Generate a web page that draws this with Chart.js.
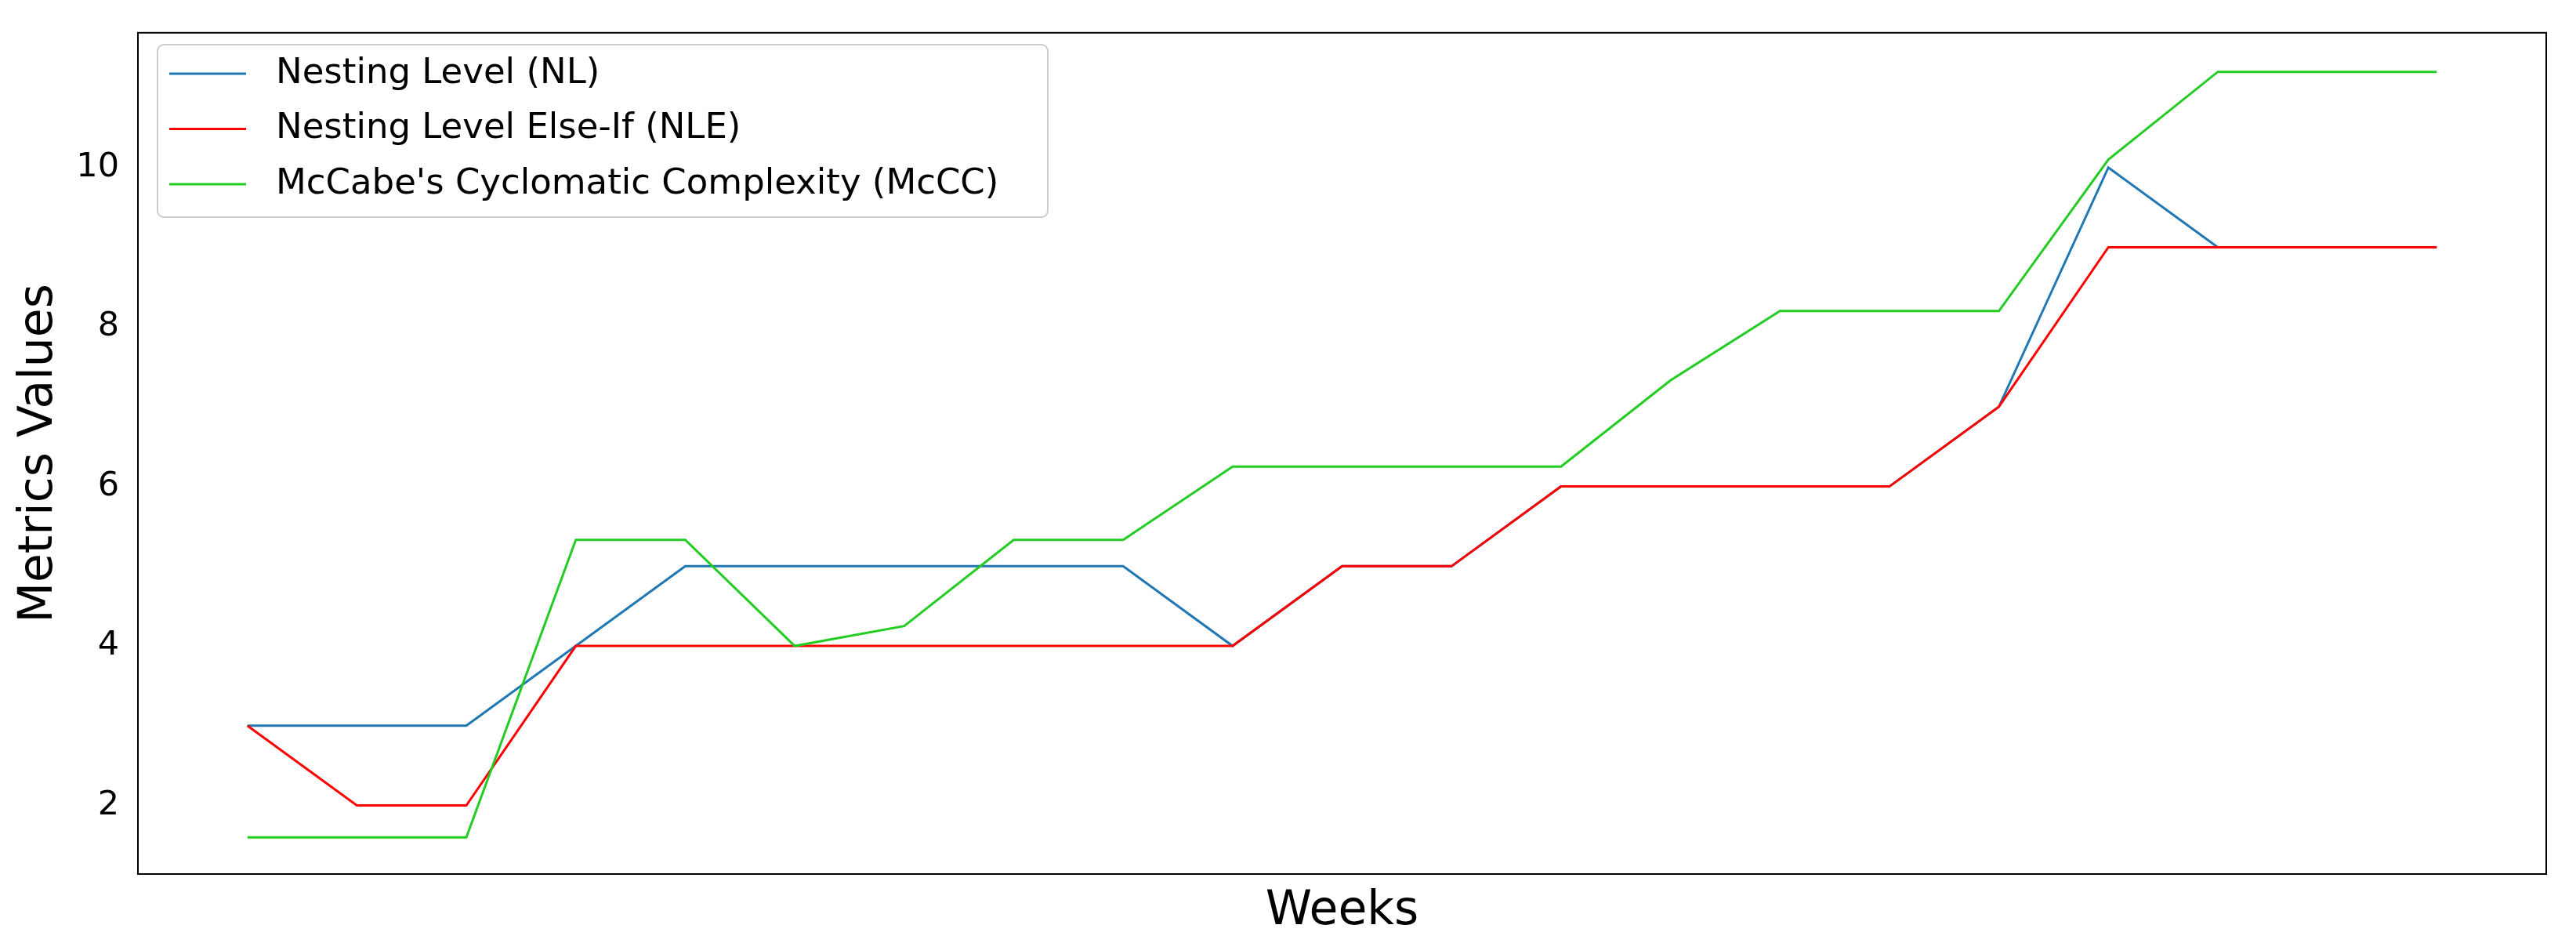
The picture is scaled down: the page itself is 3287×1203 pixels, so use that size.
<!DOCTYPE html>
<html><head><meta charset="utf-8">
<script src="https://cdn.jsdelivr.net/npm/chart.js@4/dist/chart.umd.min.js"></script>
<style>html,body{margin:0;padding:0;background:#fff}#w{width:3287px;height:1203px}</style>
</head><body><div id="w"><canvas id="c"></canvas></div>
<script>
const weeks = [0,1,2,3,4,5,6,7,8,9,10,11,12,13,14,15,16,17,18,19,20];
const nl   = [3,3,3,4,5,5,5,5,5,4,5,5,6,6,6,6,7,10,9,9,9];
const nle  = [3,2,2,4,4,4,4,4,4,4,5,5,6,6,6,6,7,9,9,9,9];
const mccc = [1.6,1.6,1.6,5.33,5.33,4,4.25,5.33,5.33,6.25,6.25,6.25,6.25,7.33,8.2,8.2,8.2,10.1,11.2,11.2,11.2];
const yTicks = [2,4,6,8,10];
const names = ['Nesting Level (NL)','Nesting Level Else-If (NLE)',"McCabe's Cyclomatic Complexity (McCC)"];
const colors = ['#1f77b4','#ff0000','#22cc22'];
const orders = [2,1,0];
const F = 'DejaVu Sans';
const ds = [nl,nle,mccc].map((s,i)=>({label:names[i],order:orders[i],data:s.map((v,j)=>({x:weeks[j],y:v})),borderColor:colors[i],borderWidth:3,pointRadius:0,tension:0,fill:false}));
const legendPlugin={id:'lg',afterDraw(ch){const c=ch.ctx;c.save();
 const x=201,y=57,w=1136,h=220;
 c.fillStyle='rgba(255,255,255,0.8)';c.strokeStyle='#cccccc';c.lineWidth=2;
 c.beginPath();c.roundRect(x,y,w,h,8);c.fill();c.stroke();
 c.font='45px "'+F+'"';c.textBaseline='middle';
 names.forEach((n,i)=>{const yy=94+i*70.5;c.strokeStyle=colors[i];c.lineWidth=3;c.beginPath();c.moveTo(216,yy);c.lineTo(314,yy);c.stroke();c.fillStyle='#000';c.fillText(n,352,yy);});
 c.restore();}};
const frame={id:'fr',afterDraw(ch){const a=ch.chartArea,c=ch.ctx;c.save();c.strokeStyle='#000';c.lineWidth=2;c.strokeRect(a.left,a.top,a.right-a.left,a.bottom-a.top);c.restore();}};
new Chart(document.getElementById('c'),{type:'line',data:{datasets:ds},
options:{responsive:true,maintainAspectRatio:false,animation:false,
 layout:{padding:{top:31,right:38,left:10,bottom:0}},
 plugins:{legend:{display:false},tooltip:{enabled:false}},
 scales:{
  x:{type:'linear',min:-1,max:21,grid:{display:false},border:{display:false},ticks:{display:false},
     title:{display:true,text:'Weeks',font:{family:F,size:60},color:'#000',padding:{top:2}},
     afterFit(s){s.height=88;}},
  y:{min:1.14,max:11.69,grid:{display:false},border:{display:false},
     afterBuildTicks(s){s.ticks=yTicks.map(v=>({value:v}));},
     ticks:{font:{family:F,size:43},color:'#000',padding:16},
     title:{display:true,text:'Metrics Values',font:{family:F,size:60},color:'#000'},
     afterFit(s){s.width=166;}}
 }},plugins:[legendPlugin,frame]});
</script></body></html>
